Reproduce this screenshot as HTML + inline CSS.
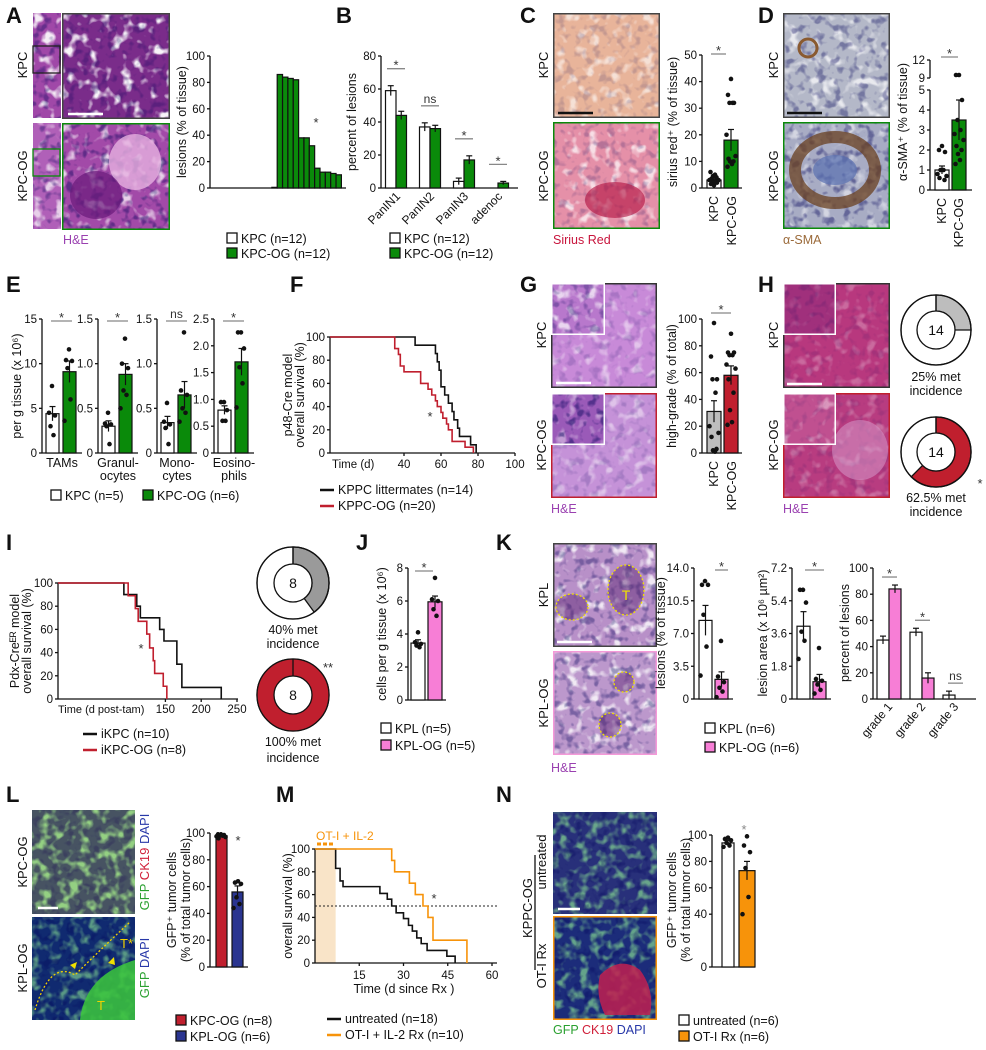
<!DOCTYPE html>
<html><head><meta charset="utf-8">
<style>
body{margin:0;background:#fff}
svg{display:block;font-family:"Liberation Sans",sans-serif}
</style></head>
<body>
<svg id="fig" width="986" height="1050" viewBox="0 0 986 1050">
<defs>
<filter id="wspk" x="0" y="0" width="1" height="1"><feTurbulence type="fractalNoise" baseFrequency="0.09" numOctaves="2" seed="4"/><feColorMatrix type="matrix" values="0 0 0 0 1 0 0 0 0 1 0 0 0 0 1 5 0 0 0 -2.7"/></filter>
<filter id="dspk" x="0" y="0" width="1" height="1"><feTurbulence type="fractalNoise" baseFrequency="0.12" numOctaves="2" seed="9"/><feColorMatrix type="matrix" values="0 0 0 0 0 0 0 0 0 0 0 0 0 0 0.1 0 5 0 0 -2.6"/></filter>
<filter id="gspk" x="0" y="0" width="1" height="1"><feTurbulence type="fractalNoise" baseFrequency="0.1" numOctaves="2" seed="2"/><feColorMatrix type="matrix" values="0 0 0 0 0.3 0 0 0 0 0.9 0 0 0 0 0.3 4 0 0 0 -1.9"/></filter>
</defs>
</svg>
<script>
// ---------- data ----------
const aKPC=[0,0,0,0,0,0,0,0,0,0,0,0.5];
const aOG=[86,84,83,82,38,38,32,15,12,12,11,10];
const bCats=['PanIN1','PanIN2','PanIN3','adenoc'];
const bKPC=[59,37,4,0];
const bKPCerr=[3,2.5,2,0];
const bOG=[44,36,17,3];
const bOGerr=[2.5,2,2.5,1];
const bSig=['*','ns','*','*'];
const cMeans=[3,18];
const cErrs=[0.5,4];
const cPtsKPC=[1,1.5,2,2,2.5,3,3,3.5,4,4.5,5,6];
const cPtsOG=[41,35,32,32,32,20,12,11,10,10,9,8];
const dMeans=[1,3.5];
const dErrs=[0.2,1];
const dPtsKPC=[2.2,2,1.9,1,1,0.8,0.7,0.6,0.5];
const dPtsOG=[9.5,9.5,4.5,3.5,3,2.8,2.5,2.2,2,1.8,1.5,1.3];
const eCats=[['TAMs'],['Granul-','ocytes'],['Mono-','cytes'],['Eosino-','phils']];
const eKPC=[4.4,0.3,0.34,0.8];
const eKPCerr=[0.8,0.06,0.07,0.08];
const eOG=[9.1,0.88,0.65,1.7];
const eOGerr=[1.2,0.12,0.15,0.25];
const eMax=[15,1.5,1.5,2.5];
const eTicks=[[0,5,10,15],[0,0.5,1.0,1.5],[0,0.5,1.0,1.5],[0,0.5,1.0,1.5,2.0,2.5]];
const eSig=['*','*','ns','*'];
const ePtsKPC=[[7.5,4.5,4.2,3,2],[0.45,0.33,0.32,0.3,0.1],[0.56,0.35,0.32,0.28,0.1],[0.95,0.95,0.8,0.6,0.6]];
const ePtsOG=[[11.6,10.4,10.3,9.5,6,3.6],[1.28,1.0,0.95,0.7,0.65,0.5],[1.35,0.7,0.65,0.5,0.45,0.35],[2.25,2.25,1.95,1.6,1.3,0.85]];
const fTimesK=[46,57,58,59,60,62,64,66,67,69,70,76,79];
const fSurvK=[92.9,85.7,78.6,71.4,57.1,50,42.9,35.7,28.6,21.4,14.3,7.1,0];
const fTimesR=[35,37,38,40,49,53,55,57,58,60,61,63,64,66,73,77.5];
const fSurvR=[90,85,75,70,60,55,50,45,40,35,30,25,20,10,5,0];
const gMeans=[31,58];
const gErrs=[8,7];
const gPtsKPC=[97,72,55,55,45,20,15,12,3,2,1];
const gPtsOG=[89,75,75,73,73,66,63,55,45,32,23,21];
const hFrac=[0.25,0.625];
const iTimesK=[92,110,115,142,148,166,173,228];
const iSurvK=[90,80,70,60,50,30,10,0];
const iTimesR=[98,108,112,124,128,133,135,147,152];
const iSurvR=[89,78,67,56,44,33,22,11,0];
const iFrac=[0.4,1.0];
const jMeans=[3.45,5.95];
const jErrs=[0.2,0.35];
const jPtsKPL=[4.1,3.5,3.4,3.3,3.2];
const jPtsOG=[7.4,6.1,6.0,5.5,5.1];
const k1Means=[8.4,2.1];
const k1Errs=[1.6,0.8];
const k1PtsKPL=[12.6,12.2,12.2,9.0,5.6,2.5];
const k1PtsOG=[6.2,2.4,1.8,1.2,0.8,0.2];
const k2Means=[4.0,0.95];
const k2Errs=[0.8,0.4];
const k2PtsKPL=[6.0,6.0,5.3,3.7,3.2,2.2];
const k2PtsOG=[2.8,1.1,1.0,0.8,0.5,0.3];
const k3Cats=['grade 1','grade 2','grade 3'];
const k3KPL=[45,51,3];
const k3KPLerr=[3,3,3];
const k3OG=[84,16,0];
const k3OGerr=[3,4,0];
const k3Sig=['*','*','ns'];
const lMeans=[98,56];
const lErrs=[1,4.5];
const lPtsKPC=[99,99,98.5,98,98,97.5,97,96];
const lPtsKPL=[64,63,62,52,47,44];
const mTimesU=[7,8.5,9.5,22,24.5,26,27.5,30,31.7,33,34.5,36,38,44.7,47.5];
const mSurvU=[83,72,67,61,56,50,44,39,33,28,22,17,11,6,0];
const mTimesO=[26,27,32,34,36.6,38.3,40,51.5];
const mSurvO=[90,80,70,60,50,40,20,0];
const nMeans=[94,73];
const nErrs=[2,7];
const nPtsU=[98,97,96,94,92,91];
const nPtsO=[99,92,87,75,53,40];

// ---------- helpers ----------
const NS='http://www.w3.org/2000/svg';
const svg=document.getElementById('fig');
function mk(tag,attrs,name,parent){
  const el=document.createElementNS(NS,tag);
  for(const k in attrs) el.setAttribute(k,attrs[k]);
  
  
  (parent||svg).appendChild(el);
  return el;
}
function txt(x,y,s,name,o){
  o=o||{};
  const a={x:x,y:y,'font-size':o.fs||11.5,'text-anchor':o.anchor||'start',fill:o.fill||'#111'};
  if(o.fw) a['font-weight']=o.fw;
  if(o.rot!=null) a.transform='rotate('+o.rot+' '+x+' '+y+')';
  const t=mk('text',a,name);
  t.textContent=s;
  return t;
}
function line(x1,y1,x2,y2,name,st,w,dash){
  const a={x1:x1,y1:y1,x2:x2,y2:y2,stroke:st||'#111','stroke-width':w||1.3};
  if(dash) a['stroke-dasharray']=dash;
  return mk('line',a,name);
}
function letter(x,y,s){txt(x,y,s,'panel-label-'+s.toLowerCase(),{fs:22,fw:'bold'});}
function yAxis(ax,y0,y1,min,max,ticks,name,fmt){
  const sc=v=>y0-(v-min)/(max-min)*(y0-y1);
  line(ax,y0,ax,y1,name+'-line');
  ticks.forEach(t=>{
    line(ax-3,sc(t),ax,sc(t),name+'-tick');
    txt(ax-5,sc(t)+4,fmt?fmt(t):String(t),name+'-tick-label',{anchor:'end'});
  });
  return sc;
}
function bar(x,w,val,err,fill,sc,name){
  mk('rect',{x:x,y:sc(val),width:w,height:Math.max(0,sc(0)-sc(val)),fill:fill,stroke:'#111','stroke-width':1.2},name);
  if(err>0){
    const cx=x+w/2;
    line(cx,sc(val-err),cx,sc(val+err),name+'-error-bar','#111',1.2);
    line(cx-3,sc(val+err),cx+3,sc(val+err),name+'-error-cap','#111',1.2);
  }
}
const jit=[0,-3,3,-1.5,1.5,-4.5,4.5,-2.5,2.5,-1,1,-3.5];
function dots(cx,pts,sc,name){
  pts.forEach((p,i)=>mk('circle',{cx:cx+jit[i%jit.length],cy:sc(p),r:2.3,fill:'#111'},name));
}
function sig(x0,x1,y,label,name){
  line(x0,y,x1,y,name+'-line','#888',1.3);
  txt((x0+x1)/2,label==='ns'?y-3:y+1,label,name,{anchor:'middle',fs:label==='ns'?12:13,fill:'#333'});
}
function legendBox(x,y,fill,label,name){
  mk('rect',{x:x,y:y,width:10,height:10,fill:fill,stroke:'#111','stroke-width':1.3},name+'-swatch');
  txt(x+14,y+10,label,name+'-label',{fs:12.5});
}
function legendLine(x,y,color,label,name){
  line(x,y,x+14,y,name+'-swatch',color,2.5);
  txt(x+18,y+4,label,name+'-label',{fs:12.5});
}
function km(times,surv,sx,sy,tEnd,color,name){
  let d='M'+sx(0)+' '+sy(100);
  times.forEach((t,i)=>{d+=' H'+sx(t)+' V'+sy(surv[i]);});
  if(surv[surv.length-1]>0) d+=' H'+sx(tEnd);
  mk('path',{d:d,fill:'none',stroke:color,'stroke-width':1.6},name);
}
function micro(x,y,w,h,base,border,name,o){
  o=o||{};
  mk('rect',{x:x,y:y,width:w,height:h,fill:base},name);
  mk('rect',{x:x,y:y,width:w,height:h,fill:'#fff',filter:'url(#'+(o.f1||'wspk')+')',opacity:o.w==null?0.8:o.w},name+'-texture');
  mk('rect',{x:x,y:y,width:w,height:h,fill:'#000',filter:'url(#dspk)',opacity:o.d==null?0.35:o.d},name+'-dark-texture');
  if(border) mk('rect',{x:x+0.75,y:y+0.75,width:w-1.5,height:h-1.5,fill:'none',stroke:border,'stroke-width':1.5},name+'-border');
}
function donut(cx,cy,R,r,frac,color,label,name){
  mk('circle',{cx:cx,cy:cy,r:R,fill:'#fff',stroke:'#111','stroke-width':1.3},name+'-ring');
  if(frac>=1){
    mk('circle',{cx:cx,cy:cy,r:(R+r)/2,fill:'none',stroke:color,'stroke-width':R-r},name+'-slice');
    line(cx,cy-R,cx,cy-r,name+'-divider','#111',1.3);
  } else {
    const a=frac*2*Math.PI,la=frac>0.5?1:0;
    const ox=cx+R*Math.sin(a),oy=cy-R*Math.cos(a),ix=cx+r*Math.sin(a),iy=cy-r*Math.cos(a);
    mk('path',{d:'M'+cx+' '+(cy-R)+' A'+R+' '+R+' 0 '+la+' 1 '+ox+' '+oy+' L'+ix+' '+iy+' A'+r+' '+r+' 0 '+la+' 0 '+cx+' '+(cy-r)+' Z',fill:color,stroke:'#111','stroke-width':1.3},name+'-slice');
    line(cx,cy-R,cx,cy-r,name+'-divider','#111',1.3);
  }
  mk('circle',{cx:cx,cy:cy,r:R,fill:'none',stroke:'#111','stroke-width':1.3},name+'-outline');
  mk('circle',{cx:cx,cy:cy,r:r,fill:'#fff',stroke:'#111','stroke-width':1.3},name+'-hole');
  txt(cx,cy+5,label,name+'-count',{anchor:'middle',fs:14});
}
const GREEN='#0a8a0a',RED='#c01f2e',PINK='#f77ed6',BLUE='#2a3590',ORANGE='#f7930a',GRAY='#bdbdbd';

// ---------- A ----------
letter(6,23,'A');
micro(33,13,28,105,'#a048a8',null,'a-kpc-overview',{w:0.9});
micro(33,123,28,106,'#b060b8',null,'a-kpcog-overview',{w:0.7});
mk('rect',{x:33,y:46,width:27,height:27,fill:'none',stroke:'#222','stroke-width':1.3},'a-kpc-zoom-box');
mk('rect',{x:33,y:149,width:27,height:27,fill:'none',stroke:GREEN,'stroke-width':1.3},'a-kpcog-zoom-box');
micro(62,13,108,106,'#7a2c8a','#444','a-kpc-image',{w:0.95,d:0.25});
micro(62,123,108,107,'#a24aa8',GREEN,'a-kpcog-image',{w:0.75,d:0.4});
mk('ellipse',{cx:135,cy:162,rx:26,ry:28,fill:'#e6b0e0',opacity:0.8},'a-lesion');
mk('ellipse',{cx:96,cy:195,rx:26,ry:24,fill:'#6a1a7a',opacity:0.7},'a-acinar-region');
line(68,114,103,114,'a-scale-bar','#fff',2.5);
txt(27,65,'KPC','a-row-label-kpc',{rot:-90,anchor:'middle',fs:13});
txt(27,176,'KPC-OG','a-row-label-kpcog',{rot:-90,anchor:'middle',fs:13});
txt(63,244,'H&E','a-stain-label',{fill:'#9a40b0',fs:12.5});
{
  const sc=yAxis(210,188,56,0,100,[0,20,40,60,80,100],'a-y-axis');
  line(210,188,346,188,'a-x-axis');
  const bw=5.35;
  aKPC.forEach((v,i)=>bar(213+i*bw,bw,v,0,'#fff',sc,'a-bar-kpc'));
  aOG.forEach((v,i)=>bar(213+(12+i)*bw,bw,v,0,GREEN,sc,'a-bar-kpcog'));
  txt(316,127,'*','a-significance',{anchor:'middle',fs:13,fill:'#333'});
  txt(186,122,'lesions (% of tissue)','a-y-axis-title',{rot:-90,anchor:'middle',fs:12.5});
  legendBox(227,233,'#fff','KPC (n=12)','a-legend-kpc');
  legendBox(227,248,GREEN,'KPC-OG (n=12)','a-legend-kpcog');
}
// ---------- B ----------
letter(336,23,'B');
{
  const sc=yAxis(381,188,56,0,80,[0,20,40,60,80],'b-y-axis');
  line(381,188,518,188,'b-x-axis');
  const bw=10.5;
  bCats.forEach((c,i)=>{
    const cx=396+i*34;
    bar(cx-bw,bw,bKPC[i],bKPCerr[i],'#fff',sc,'b-bar-kpc-'+c.toLowerCase());
    bar(cx,bw,bOG[i],bOGerr[i],GREEN,sc,'b-bar-kpcog-'+c.toLowerCase());
    const top=Math.min(sc(bKPC[i]+bKPCerr[i]),sc(bOG[i]+bOGerr[i]));
    sig(cx-9,cx+9,top-17,bSig[i],'b-significance-'+c.toLowerCase());
    txt(cx+5,197,c,'b-x-tick-label',{rot:-45,anchor:'end',fs:12});
  });
  txt(356,122,'percent of lesions','b-y-axis-title',{rot:-90,anchor:'middle',fs:12.5});
  legendBox(390,233,'#fff','KPC (n=12)','b-legend-kpc');
  legendBox(390,248,GREEN,'KPC-OG (n=12)','b-legend-kpcog');
}
// ---------- C ----------
letter(520,23,'C');
micro(553,13,107,105,'#e8b49a','#444','c-kpc-image',{w:0.6,d:0.15});
micro(553,122,107,107,'#e590a8',GREEN,'c-kpcog-image',{w:0.7,d:0.2});
mk('ellipse',{cx:615,cy:200,rx:30,ry:18,fill:'#b01040',opacity:0.6},'c-fibrotic-region');
line(558,113,593,113,'c-scale-bar','#111',2.5);
txt(548,65,'KPC','c-row-label-kpc',{rot:-90,anchor:'middle',fs:13});
txt(548,176,'KPC-OG','c-row-label-kpcog',{rot:-90,anchor:'middle',fs:13});
txt(553,244,'Sirius Red','c-stain-label',{fill:'#c8143c',fs:12.5});
{
  const sc=yAxis(702,188,55,0,50,[0,10,20,30,40,50],'c-y-axis');
  line(702,188,742,188,'c-x-axis');
  bar(707,14,cMeans[0],cErrs[0],'#fff',sc,'c-bar-kpc');
  bar(724,14,cMeans[1],cErrs[1],GREEN,sc,'c-bar-kpcog');
  dots(714,cPtsKPC,sc,'c-point-kpc');
  dots(731,cPtsOG,sc,'c-point-kpcog');
  sig(711,726,54,'*','c-significance');
  txt(677,122,'sirius red\u207A (% of tissue)','c-y-axis-title',{rot:-90,anchor:'middle',fs:12.5});
  txt(718,196,'KPC','c-x-tick-label',{rot:-90,anchor:'end',fs:12.5});
  txt(736,196,'KPC-OG','c-x-tick-label',{rot:-90,anchor:'end',fs:12.5});
}
// ---------- D ----------
letter(758,23,'D');
micro(783,13,107,105,'#b4b8c8','#444','d-kpc-image',{w:0.7,d:0.35});
micro(783,122,107,107,'#a8acc4',GREEN,'d-kpcog-image',{w:0.5,d:0.4});
mk('circle',{cx:808,cy:48,r:9,fill:'none',stroke:'#8a5a30','stroke-width':3},'d-vessel');
mk('ellipse',{cx:835,cy:170,rx:40,ry:33,fill:'none',stroke:'#6a4020','stroke-width':12,opacity:0.75},'d-sma-ring');
mk('ellipse',{cx:835,cy:170,rx:22,ry:15,fill:'#5a70b0',opacity:0.7},'d-duct');
line(787,113,822,113,'d-scale-bar','#111',2.5);
txt(778,65,'KPC','d-row-label-kpc',{rot:-90,anchor:'middle',fs:13});
txt(778,176,'KPC-OG','d-row-label-kpcog',{rot:-90,anchor:'middle',fs:13});
txt(783,244,'\u03B1-SMA','d-stain-label',{fill:'#9b6a3a',fs:12.5});
{
  const scL=yAxis(930,190,90,0,5,[0,1,2,3,4,5],'d-y-axis-lower');
  const scU=yAxis(930,78,60,9,12,[9,12],'d-y-axis-upper');
  const sc=v=>v>5?scU(v):scL(v);
  line(930,190,972,190,'d-x-axis');
  bar(935,14,dMeans[0],dErrs[0],'#fff',scL,'d-bar-kpc');
  bar(952,14,dMeans[1],dErrs[1],GREEN,scL,'d-bar-kpcog');
  dots(942,dPtsKPC,sc,'d-point-kpc');
  dots(959,dPtsOG,sc,'d-point-kpcog');
  sig(941,958,57,'*','d-significance');
  txt(907,122,'\u03B1-SMA\u207A (% of tissue)','d-y-axis-title',{rot:-90,anchor:'middle',fs:12.5});
  txt(946,198,'KPC','d-x-tick-label',{rot:-90,anchor:'end',fs:12.5});
  txt(963,198,'KPC-OG','d-x-tick-label',{rot:-90,anchor:'end',fs:12.5});
}
// ---------- E ----------
letter(6,292,'E');
{
  const axs=[42,98,157,214];
  eCats.forEach((c,i)=>{
    const ax=axs[i];
    const sc=yAxis(ax,453,319,0,eMax[i],eTicks[i],'e-y-axis-'+i,t=>i===0?String(t):t.toFixed(1).replace(/^0\.0$/,'0'));
    line(ax,453,ax+40,453,'e-x-axis-'+i);
    bar(ax+4,13,eKPC[i],eKPCerr[i],'#fff',sc,'e-bar-kpc-'+c[0].toLowerCase());
    bar(ax+21,13,eOG[i],eOGerr[i],GREEN,sc,'e-bar-kpcog-'+c[0].toLowerCase());
    dots(ax+10,ePtsKPC[i],sc,'e-point-kpc');
    dots(ax+27,ePtsOG[i],sc,'e-point-kpcog');
    sig(ax+9,ax+30,321,eSig[i],'e-significance');
    c.forEach((s,j)=>txt(ax+20,467+j*13,s,'e-category-label',{anchor:'middle',fs:12.5}));
  });
  txt(21,386,'per g tissue (x 10\u2076)','e-y-axis-title',{rot:-90,anchor:'middle',fs:12.5});
  legendBox(51,490,'#fff','KPC (n=5)','e-legend-kpc');
  legendBox(143,490,GREEN,'KPC-OG (n=6)','e-legend-kpcog');
}
// ---------- F ----------
letter(290,292,'F');
{
  const sx=t=>330+t*1.85, sy=yAxis(330,453,337,0,100,[0,20,40,60,80,100],'f-y-axis');
  line(330,453,515,453,'f-x-axis');
  [40,60,80,100].forEach(t=>{line(sx(t),453,sx(t),456,'f-x-tick');txt(sx(t),468,String(t),'f-x-tick-label',{anchor:'middle'});});
  txt(332,468,'Time (d)','f-x-axis-title',{fs:11.5});
  km(fTimesK,fSurvK,sx,sy,100,'#111','f-curve-kppc');
  km(fTimesR,fSurvR,sx,sy,100,RED,'f-curve-kppc-og');
  txt(430,421,'*','f-significance',{anchor:'middle',fs:13,fill:'#333'});
  txt(292,395,'p48-Cre model','f-y-axis-title-1',{rot:-90,anchor:'middle',fs:12.5});
  txt(304,395,'overall survival (%)','f-y-axis-title-2',{rot:-90,anchor:'middle',fs:12.5});
  legendLine(320,490,'#111','KPPC littermates (n=14)','f-legend-kppc');
  legendLine(320,506,RED,'KPPC-OG (n=20)','f-legend-kppc-og');
}
// ---------- G ----------
letter(520,292,'G');
micro(551,283,106,105,'#c88ad8','#333','g-kpc-image',{w:0.5,d:0.15});
micro(551,393,106,105,'#c592d8',RED,'g-kpcog-image',{w:0.45,d:0.15});
micro(551,283,54,52,'#b878cc','#fff','g-kpc-inset',{w:0.7,d:0.3});
micro(551,393,54,52,'#9a5ab8','#fff','g-kpcog-inset',{w:0.4,d:0.45});
line(556,383,591,383,'g-scale-bar','#fff',2.5);
txt(546,335,'KPC','g-row-label-kpc',{rot:-90,anchor:'middle',fs:13});
txt(546,445,'KPC-OG','g-row-label-kpcog',{rot:-90,anchor:'middle',fs:13});
txt(551,513,'H&E','g-stain-label',{fill:'#9a40b0',fs:12.5});
{
  const sc=yAxis(702,453,319,0,100,[0,20,40,60,80,100],'g-y-axis');
  line(702,453,742,453,'g-x-axis');
  bar(707,14,gMeans[0],gErrs[0],GRAY,sc,'g-bar-kpc');
  bar(724,14,gMeans[1],gErrs[1],RED,sc,'g-bar-kpcog');
  dots(714,gPtsKPC,sc,'g-point-kpc');
  dots(731,gPtsOG,sc,'g-point-kpcog');
  sig(711,731,313,'*','g-significance');
  txt(676,386,'high-grade (% of total)','g-y-axis-title',{rot:-90,anchor:'middle',fs:12.5});
  txt(718,461,'KPC','g-x-tick-label',{rot:-90,anchor:'end',fs:12.5});
  txt(736,461,'KPC-OG','g-x-tick-label',{rot:-90,anchor:'end',fs:12.5});
}
// ---------- H ----------
letter(758,292,'H');
micro(783,283,107,105,'#b8387e','#333','h-kpc-image',{w:0.25,d:0.1});
micro(783,393,107,105,'#b83c80',RED,'h-kpcog-image',{w:0.25,d:0.1});
mk('ellipse',{cx:860,cy:450,rx:28,ry:30,fill:'#d8a0d0',opacity:0.5},'h-metastasis');
micro(783,283,53,52,'#a0307c','#fff','h-kpc-inset',{w:0.15,d:0.15});
micro(783,393,53,52,'#c05090','#fff','h-kpcog-inset',{w:0.4,d:0.1});
line(787,384,822,384,'h-scale-bar','#fff',2.5);
txt(778,335,'KPC','h-row-label-kpc',{rot:-90,anchor:'middle',fs:13});
txt(778,445,'KPC-OG','h-row-label-kpcog',{rot:-90,anchor:'middle',fs:13});
txt(783,513,'H&E','h-stain-label',{fill:'#9a40b0',fs:12.5});
donut(936,330,35,19,hFrac[0],GRAY,'14','h-donut-kpc');
txt(936,381,'25% met','h-donut-kpc-caption-1',{anchor:'middle',fs:12.5});
txt(936,395,'incidence','h-donut-kpc-caption-2',{anchor:'middle',fs:12.5});
donut(936,452,35,19,hFrac[1],RED,'14','h-donut-kpcog');
txt(936,502,'62.5% met','h-donut-kpcog-caption-1',{anchor:'middle',fs:12.5});
txt(936,516,'incidence','h-donut-kpcog-caption-2',{anchor:'middle',fs:12.5});
txt(980,488,'*','h-significance',{anchor:'middle',fs:13,fill:'#333'});
// ---------- I ----------
letter(6,550,'I');
{
  const sx=t=>58+t*0.716, sy=yAxis(58,699,583,0,100,[0,20,40,60,80,100],'i-y-axis');
  line(58,699,238,699,'i-x-axis');
  [150,200,250].forEach(t=>{line(sx(t),699,sx(t),702,'i-x-tick');txt(sx(t),713,String(t),'i-x-tick-label',{anchor:'middle'});});
  txt(58,713,'Time (d post-tam)','i-x-axis-title',{fs:11});
  km(iTimesK,iSurvK,sx,sy,250,'#111','i-curve-ikpc');
  km(iTimesR,iSurvR,sx,sy,250,RED,'i-curve-ikpc-og');
  txt(141,653,'*','i-significance',{anchor:'middle',fs:13,fill:'#333'});
  txt(19,641,'Pdx-Cre\u1D31\u1D3F model','i-y-axis-title-1',{rot:-90,anchor:'middle',fs:12.5});
  txt(31,641,'overall survival (%)','i-y-axis-title-2',{rot:-90,anchor:'middle',fs:12.5});
  legendLine(83,734,'#111','iKPC (n=10)','i-legend-ikpc');
  legendLine(83,750,RED,'iKPC-OG (n=8)','i-legend-ikpc-og');
}
donut(293,583,36,19,iFrac[0],'#9a9a9a','8','i-donut-ikpc');
txt(293,634,'40% met','i-donut-ikpc-caption-1',{anchor:'middle',fs:12.5});
txt(293,648,'incidence','i-donut-ikpc-caption-2',{anchor:'middle',fs:12.5});
donut(293,695,36,19,iFrac[1],RED,'8','i-donut-ikpcog');
txt(293,746,'100% met','i-donut-ikpcog-caption-1',{anchor:'middle',fs:12.5});
txt(293,762,'incidence','i-donut-ikpcog-caption-2',{anchor:'middle',fs:12.5});
txt(328,672,'**','i-significance-donut',{anchor:'middle',fs:13,fill:'#333'});
// ---------- J ----------
letter(356,550,'J');
{
  const sc=yAxis(408,700,568,0,8,[0,2,4,6,8],'j-y-axis');
  line(408,700,446,700,'j-x-axis');
  bar(411,14,jMeans[0],jErrs[0],'#fff',sc,'j-bar-kpl');
  bar(428,14,jMeans[1],jErrs[1],PINK,sc,'j-bar-kplog');
  dots(418,jPtsKPL,sc,'j-point-kpl');
  dots(435,jPtsOG,sc,'j-point-kplog');
  sig(415,433,571,'*','j-significance');
  txt(386,634,'cells per g tissue (x 10\u2076)','j-y-axis-title',{rot:-90,anchor:'middle',fs:12.5});
  legendBox(381,723,'#fff','KPL (n=5)','j-legend-kpl');
  legendBox(381,740,PINK,'KPL-OG (n=5)','j-legend-kplog');
}
// ---------- K ----------
letter(496,550,'K');
micro(553,543,104,104,'#b890c8','#444','k-kpl-image',{w:0.8,d:0.35});
micro(553,651,104,104,'#bc98cc','#f49ad8','k-kplog-image',{w:0.8,d:0.35});
[[572,607,16,13],[626,590,18,25],[624,682,10,10],[610,725,11,12]].forEach(e=>{
  mk('ellipse',{cx:e[0],cy:e[1],rx:e[2],ry:e[3],fill:'#5a2470',opacity:0.45},'k-lesion');
  mk('ellipse',{cx:e[0],cy:e[1],rx:e[2],ry:e[3],fill:'none',stroke:'#f0e000','stroke-width':1.3,'stroke-dasharray':'2 2'},'k-lesion-outline');
});
txt(626,600,'T','k-tumor-label',{anchor:'middle',fs:14,fill:'#f0e000'});
line(557,642,592,642,'k-scale-bar','#fff',2.5);
txt(548,595,'KPL','k-row-label-kpl',{rot:-90,anchor:'middle',fs:13});
txt(548,703,'KPL-OG','k-row-label-kplog',{rot:-90,anchor:'middle',fs:13});
txt(551,772,'H&E','k-stain-label',{fill:'#9a40b0',fs:12.5});
{
  const sc=yAxis(694,699,568,0,14,[0,3.5,7,10.5,14],'k1-y-axis',t=>t===0?'0':t.toFixed(1));
  line(694,699,733,699,'k1-x-axis');
  bar(699,13,k1Means[0],k1Errs[0],'#fff',sc,'k1-bar-kpl');
  bar(715,13,k1Means[1],k1Errs[1],PINK,sc,'k1-bar-kplog');
  dots(705,k1PtsKPL,sc,'k1-point-kpl');
  dots(721,k1PtsOG,sc,'k1-point-kplog');
  sig(715,728,570,'*','k1-significance');
  txt(665,633,'lesions (% of tissue)','k1-y-axis-title',{rot:-90,anchor:'middle',fs:12.5});
}
{
  const sc=yAxis(792,699,568,0,7.2,[0,1.8,3.6,5.4,7.2],'k2-y-axis',t=>t===0?'0':t.toFixed(1));
  line(792,699,831,699,'k2-x-axis');
  bar(797,13,k2Means[0],k2Errs[0],'#fff',sc,'k2-bar-kpl');
  bar(813,13,k2Means[1],k2Errs[1],PINK,sc,'k2-bar-kplog');
  dots(803,k2PtsKPL,sc,'k2-point-kpl');
  dots(819,k2PtsOG,sc,'k2-point-kplog');
  sig(805,824,570,'*','k2-significance');
  txt(767,633,'lesion area (x 10\u2076 \u00B5m\u00B2)','k2-y-axis-title',{rot:-90,anchor:'middle',fs:12.5});
}
{
  const sc=yAxis(873,699,568,0,100,[0,20,40,60,80,100],'k3-y-axis');
  line(873,699,976,699,'k3-x-axis');
  k3Cats.forEach((c,i)=>{
    const cx=889+i*33;
    bar(cx-12,12,k3KPL[i],k3KPLerr[i],'#fff',sc,'k3-bar-kpl-'+c.replace(' ','-'));
    bar(cx,12,k3OG[i],k3OGerr[i],PINK,sc,'k3-bar-kplog-'+c.replace(' ','-'));
    const top=Math.min(sc(k3KPL[i]+k3KPLerr[i]),sc(k3OG[i]+k3OGerr[i]));
    sig(cx-7,cx+8,top-8,k3Sig[i],'k3-significance');
    txt(cx+4,707,c,'k3-x-tick-label',{rot:-50,anchor:'end',fs:12});
  });
  txt(849,633,'percent of lesions','k3-y-axis-title',{rot:-90,anchor:'middle',fs:12.5});
}
legendBox(705,723,'#fff','KPL (n=6)','k-legend-kpl');
legendBox(705,742,PINK,'KPL-OG (n=6)','k-legend-kplog');
// ---------- L ----------
letter(6,802,'L');
micro(32,810,103,104,'#2c4a6a',null,'l-kpcog-image',{f1:'gspk',w:0.9,d:0.3});
mk('rect',{x:32,y:810,width:103,height:104,fill:'#c08040',opacity:0.18},'l-kpcog-tint');
micro(32,917,103,103,'#102a70',null,'l-kplog-image',{f1:'gspk',w:0.55,d:0.3});
mk('path',{d:'M80 1020 Q85 975 135 960 L135 1020 Z',fill:'#3cc83c',opacity:0.85},'l-gfp-tumor-region');
mk('path',{d:'M35 1010 Q50 960 75 975 Q100 950 130 922',fill:'none',stroke:'#f0d000','stroke-width':1.3,'stroke-dasharray':'2 2'},'l-lesion-outline');
txt(120,948,'T*','l-tumor-label-1',{fs:13,fill:'#f0d000'});
txt(97,1010,'T','l-tumor-label-2',{fs:13,fill:'#f0d000'});
mk('path',{d:'M70 965 l7 -3 l-2 7 z M108 963 l6 -6 l1 8 z',fill:'#f0e000'},'l-arrowheads');
line(38,908,58,908,'l-scale-bar','#fff',2.5);
txt(27,862,'KPC-OG','l-row-label-kpcog',{rot:-90,anchor:'middle',fs:13});
txt(27,968,'KPL-OG','l-row-label-kplog',{rot:-90,anchor:'middle',fs:13});
{
  const t=mk('text',{x:149,y:862,'font-size':13,'text-anchor':'middle',transform:'rotate(-90 149 862)'},'l-stain-label-top');
  t.innerHTML='<tspan fill="#2aa030">GFP</tspan> <tspan fill="#d0203a">CK19</tspan> <tspan fill="#2838a8">DAPI</tspan>';
  const t2=mk('text',{x:149,y:968,'font-size':13,'text-anchor':'middle',transform:'rotate(-90 149 968)'},'l-stain-label-bottom');
  t2.innerHTML='<tspan fill="#2aa030">GFP</tspan> <tspan fill="#2838a8">DAPI</tspan>';
}
{
  const sc=yAxis(210,967,833,0,100,[0,20,40,60,80,100],'l-y-axis');
  line(210,967,248,967,'l-x-axis');
  bar(216,11,lMeans[0],lErrs[0],RED,sc,'l-bar-kpcog');
  bar(232,11,lMeans[1],lErrs[1],BLUE,sc,'l-bar-kplog');
  dots(221,lPtsKPC,sc,'l-point-kpcog');
  dots(238,lPtsKPL,sc,'l-point-kplog');
  txt(238,845,'*','l-significance',{anchor:'middle',fs:13,fill:'#333'});
  txt(176,900,'GFP\u207A tumor cells','l-y-axis-title-1',{rot:-90,anchor:'middle',fs:12.5});
  txt(190,900,'(% of total tumor cells)','l-y-axis-title-2',{rot:-90,anchor:'middle',fs:12.5});
  legendBox(176,1015,RED,'KPC-OG (n=8)','l-legend-kpcog');
  legendBox(176,1031,BLUE,'KPL-OG (n=6)','l-legend-kplog');
}
// ---------- M ----------
letter(276,802,'M');
{
  const sx=t=>315+t*2.95, sy=v=>963-v*1.14;
  mk('rect',{x:sx(0),y:sy(100),width:sx(7)-sx(0),height:sy(0)-sy(100),fill:'#f9e4c8'},'m-treatment-window');
  yAxis(315,963,849,0,100,[0,20,40,60,80,100],'m-y-axis');
  line(315,963,497,963,'m-x-axis');
  [15,30,45,60].forEach(t=>{line(sx(t),963,sx(t),966,'m-x-tick');txt(sx(t),979,String(t),'m-x-tick-label',{anchor:'middle'});});
  txt(404,993,'Time (d since Rx )','m-x-axis-title',{anchor:'middle',fs:12.5});
  line(315,sy(50),497,sy(50),'m-median-line','#222',1,'2 2');
  km(mTimesU,mSurvU,sx,sy,60,'#111','m-curve-untreated');
  km(mTimesO,mSurvO,sx,sy,60,ORANGE,'m-curve-oti');
  line(317,844,334,844,'m-dosing-marker',ORANGE,3,'4 2');
  txt(316,840,'OT-I + IL-2','m-dosing-label',{fs:12,fill:ORANGE});
  txt(434,903,'*','m-significance',{anchor:'middle',fs:13,fill:'#333'});
  txt(292,906,'overall survival (%)','m-y-axis-title',{rot:-90,anchor:'middle',fs:12.5});
  legendLine(327,1019,'#111','untreated (n=18)','m-legend-untreated');
  legendLine(327,1035,ORANGE,'OT-I + IL-2 Rx (n=10)','m-legend-oti');
}
// ---------- N ----------
letter(496,802,'N');
micro(553,812,104,102,'#28307a',null,'n-untreated-image',{f1:'gspk',w:0.6,d:0.3});
micro(553,916,104,104,'#1c2c7a',ORANGE,'n-oti-image',{f1:'gspk',w:0.6,d:0.3});
mk('path',{d:'M600 975 Q620 955 640 970 Q655 990 650 1015 L605 1015 Q595 995 600 975 Z',fill:'#c02050',opacity:0.85},'n-ck19-region');
line(558,909,580,909,'n-scale-bar','#fff',2.5);
txt(546,862,'untreated','n-row-label-untreated',{rot:-90,anchor:'middle',fs:13});
txt(546,966,'OT-I Rx','n-row-label-oti',{rot:-90,anchor:'middle',fs:13});
txt(532,908,'KPPC-OG','n-group-label',{rot:-90,anchor:'middle',fs:13});
line(535,855,535,970,'n-group-bracket');
{
  const t=mk('text',{x:553,y:1034,'font-size':12.5},'n-stain-label');
  t.innerHTML='<tspan fill="#2aa030">GFP</tspan> <tspan fill="#d0203a">CK19</tspan> <tspan fill="#2838a8">DAPI</tspan>';
}
{
  const sc=yAxis(712,967,835,0,100,[0,40,60,80,100],'n-y-axis');
  line(712,967,755,967,'n-x-axis');
  bar(722,12,nMeans[0],nErrs[0],'#fff',sc,'n-bar-untreated');
  bar(739,16,nMeans[1],nErrs[1],ORANGE,sc,'n-bar-oti');
  dots(728,nPtsU,sc,'n-point-untreated');
  dots(747,nPtsO,sc,'n-point-oti');
  txt(744,834,'*','n-significance',{anchor:'middle',fs:13,fill:'#888'});
  txt(676,900,'GFP\u207A tumor cells','n-y-axis-title-1',{rot:-90,anchor:'middle',fs:12.5});
  txt(690,900,'(% of total tumor cells)','n-y-axis-title-2',{rot:-90,anchor:'middle',fs:12.5});
  legendBox(679,1015,'#fff','untreated (n=6)','n-legend-untreated');
  legendBox(679,1031,ORANGE,'OT-I Rx (n=6)','n-legend-oti');
}
</script>
</body></html>
